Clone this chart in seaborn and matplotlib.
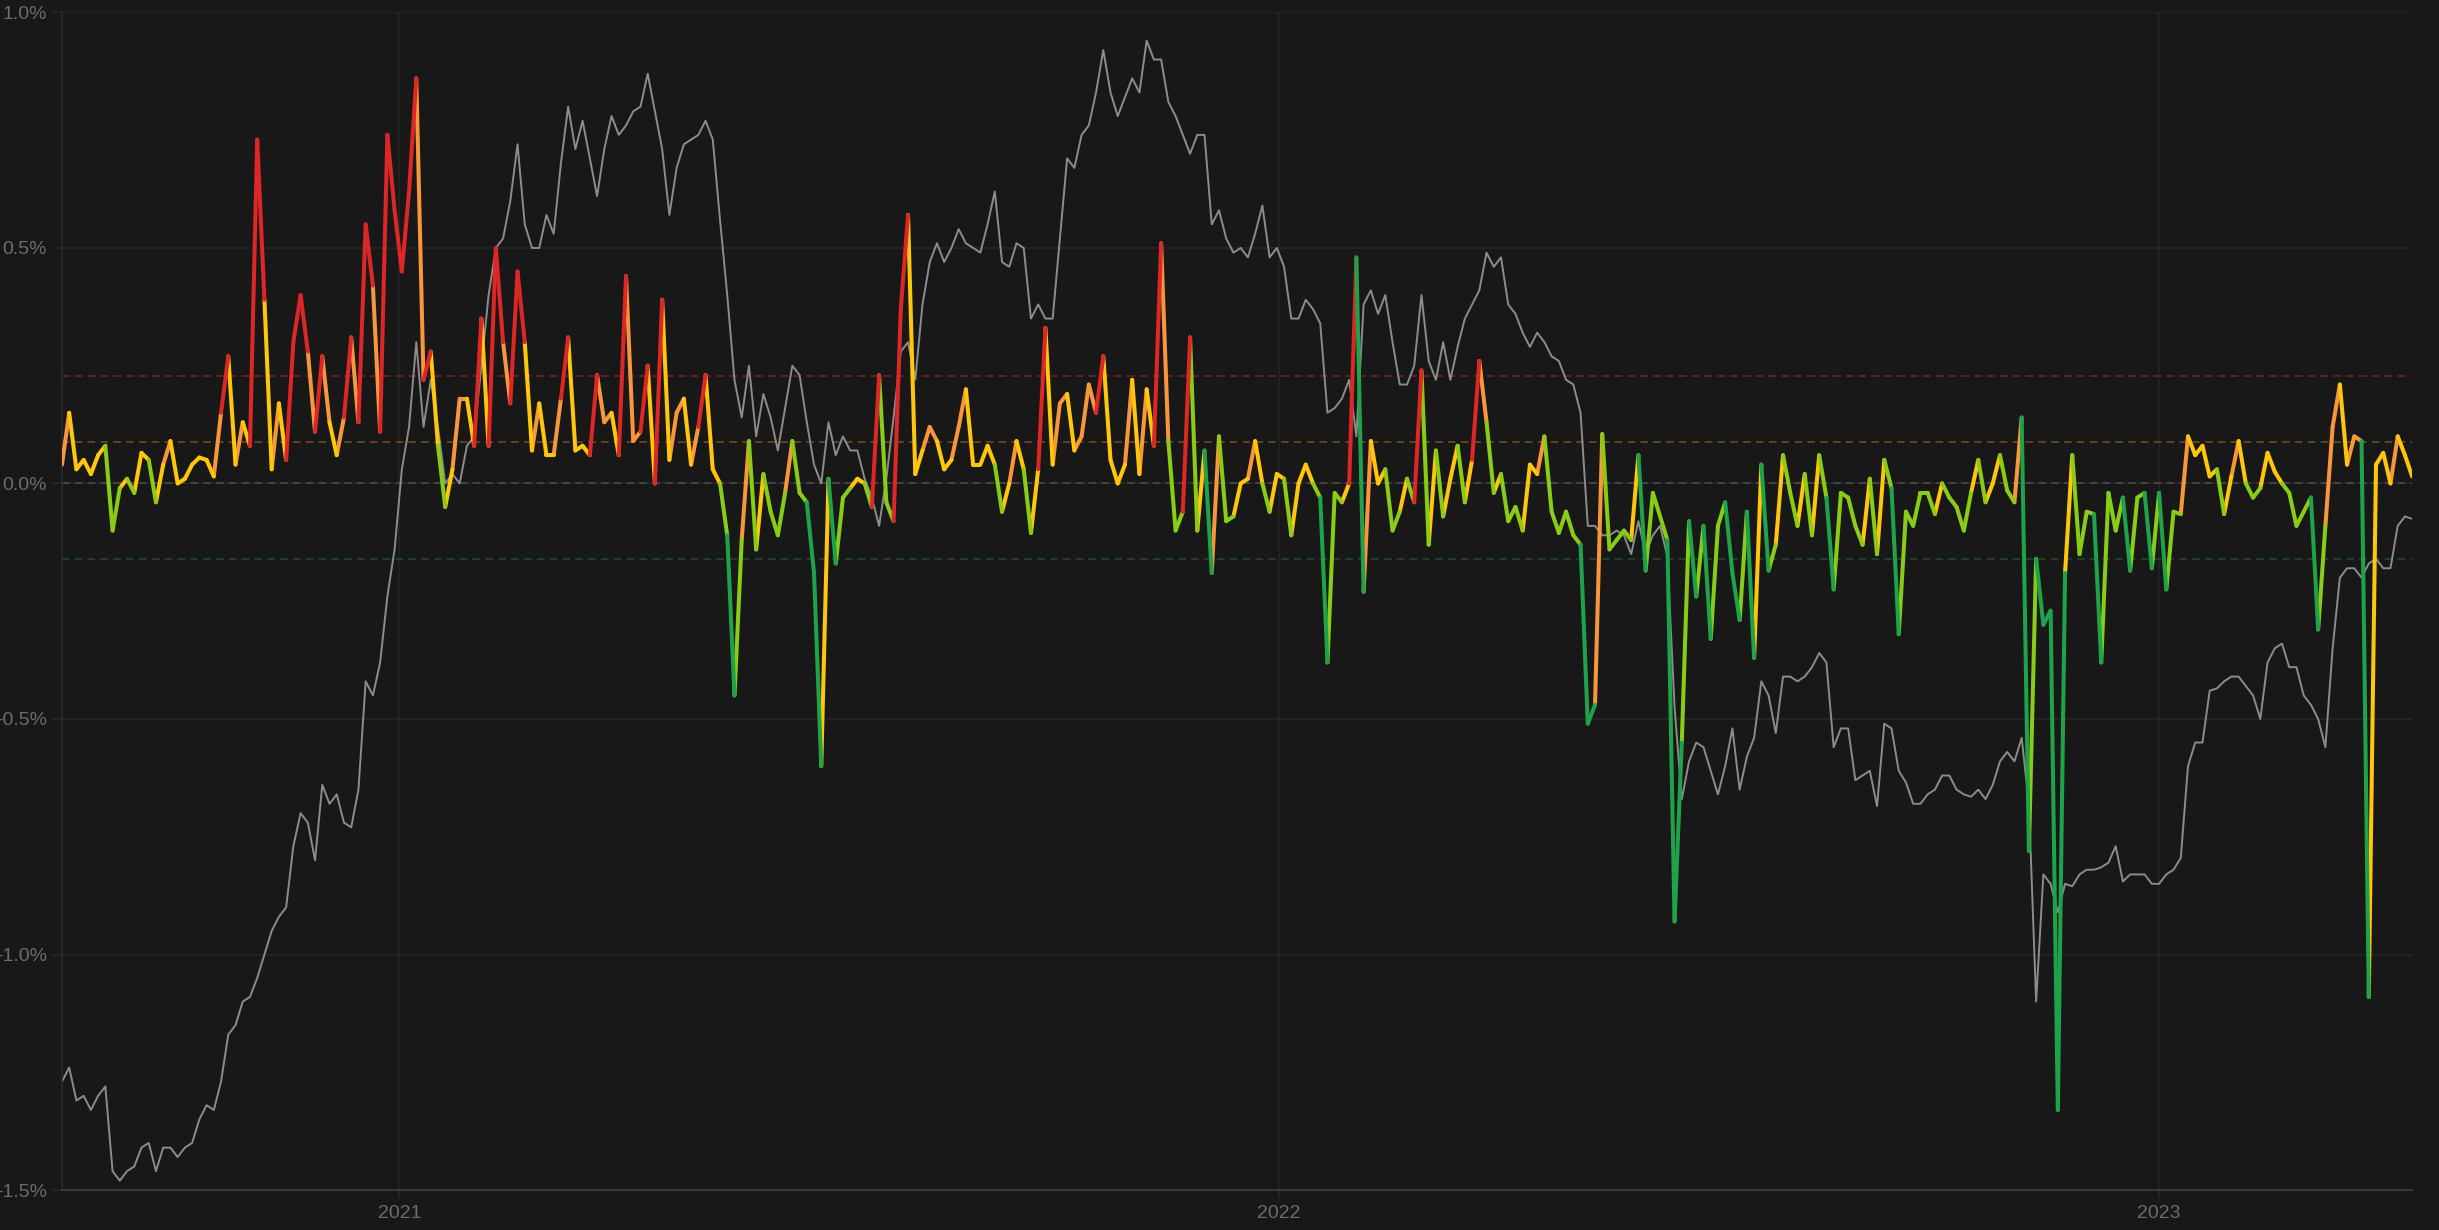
import numpy as np
import pandas as pd
import matplotlib
matplotlib.use("Agg")
import matplotlib.pyplot as plt
from matplotlib.ticker import FuncFormatter, FixedLocator
import matplotlib.dates as mdates
import seaborn as sns

# ---------------- data ----------------
start_date = "2020-08-14"
step_days = 3

# coloured series (%), one value every 3 days
funding = [
    0.04, 0.15, 0.03, 0.05, 0.02, 0.06, 0.08, -0.10, -0.01, 0.01,
    -0.02, 0.065, 0.05, -0.04, 0.04, 0.09, 0.0, 0.01, 0.04, 0.055,
    0.05, 0.015, 0.15, 0.27, 0.04, 0.13, 0.08, 0.73, 0.39, 0.03,
    0.17, 0.05, 0.30, 0.40, 0.28, 0.11, 0.27, 0.13, 0.06, 0.14,
    0.31, 0.13, 0.55, 0.42, 0.11, 0.74, 0.58, 0.45, 0.62, 0.86,
    0.22, 0.28, 0.08, -0.05, 0.03, 0.18, 0.18, 0.08, 0.35, 0.08,
    0.50, 0.30, 0.17, 0.45, 0.30, 0.07,
    0.17, 0.06, 0.06, 0.18, 0.31, 0.07, 0.08, 0.06, 0.23, 0.13,
    0.15, 0.06, 0.44, 0.09, 0.11, 0.25, 0.0, 0.39, 0.05, 0.15,
    0.18, 0.04, 0.12, 0.23, 0.03, 0.0, -0.11, -0.45, -0.12, 0.09,
    -0.14, 0.02, -0.06, -0.11, -0.02, 0.09, -0.02, -0.04, -0.19, -0.60,
    0.01, -0.17, -0.03, -0.01, 0.01, 0.0, -0.05, 0.23, -0.04, -0.08,
    0.37, 0.57, 0.02, 0.07, 0.12, 0.09, 0.03, 0.05, 0.12, 0.20,
    0.04, 0.04, 0.08, 0.04, -0.06,
    0.0, 0.09, 0.03, -0.105, 0.03, 0.33, 0.04, 0.17, 0.19, 0.07,
    0.10, 0.21, 0.15, 0.27, 0.05, 0.0, 0.04, 0.22, 0.02, 0.20,
    0.08, 0.51, 0.09, -0.10, -0.06, 0.31, -0.10, 0.07, -0.19, 0.10,
    -0.08, -0.07, 0.0, 0.01, 0.09, 0.0, -0.06, 0.02, 0.01, -0.11,
    0.0, 0.04, 0.0, -0.03, -0.38, -0.02, -0.04, 0.0, 0.48, -0.23,
    0.09, 0.0, 0.03, -0.10, -0.06, 0.01, -0.04, 0.24, -0.13, 0.07,
    -0.07, 0.01, 0.08, -0.04, 0.05,
    0.26, 0.13, -0.02, 0.02, -0.08, -0.05, -0.10, 0.04, 0.02, 0.10,
    -0.06, -0.105, -0.06, -0.11, -0.13, -0.51, -0.47, 0.105, -0.14, -0.12,
    -0.10, -0.12, 0.06, -0.185, -0.02, -0.07, -0.12, -0.93, -0.55, -0.08,
    -0.24, -0.09, -0.33, -0.09, -0.04, -0.19, -0.29, -0.06, -0.37, 0.04,
    -0.185, -0.13, 0.06, -0.02, -0.09, 0.02, -0.11, 0.06, -0.03, -0.225,
    -0.02, -0.03, -0.09, -0.13, 0.01, -0.15, 0.05, -0.01, -0.32, -0.06,
    -0.09, -0.02, -0.02, -0.065, 0.0,
    -0.03, -0.05, -0.10, -0.02, 0.05, -0.04, 0.0, 0.06, -0.015, -0.04,
    0.14, -0.78, -0.16, -0.30, -0.27, -1.33, -0.19, 0.06, -0.15, -0.06,
    -0.065, -0.38, -0.02, -0.10, -0.03, -0.185, -0.03, -0.02, -0.18, -0.02,
    -0.225, -0.06, -0.065, 0.10, 0.06, 0.08, 0.015, 0.03, -0.065, 0.015,
    0.09, 0.0, -0.03, -0.01, 0.065, 0.025, 0.0, -0.02, -0.09, -0.06,
    -0.03, -0.31, -0.09, 0.12, 0.21, 0.04, 0.10, 0.09, -1.09, 0.04,
    0.065, 0.0, 0.10, 0.06, 0.015,
]

# grey series, drawn on the same percentage scale
reference = [
    -1.27, -1.24, -1.31, -1.30, -1.33, -1.30, -1.28, -1.46, -1.48, -1.46,
    -1.45, -1.41, -1.40, -1.46, -1.41, -1.41, -1.43, -1.41, -1.40, -1.35,
    -1.32, -1.33, -1.27, -1.17, -1.15, -1.10, -1.09, -1.05, -1.00, -0.95,
    -0.92, -0.90, -0.77, -0.70, -0.72, -0.80, -0.64, -0.68, -0.66, -0.72,
    -0.73, -0.65, -0.42, -0.45, -0.38, -0.24, -0.14, 0.03, 0.12, 0.30,
    0.12, 0.22, 0.12, 0.0, 0.02, 0.0, 0.08, 0.10, 0.25, 0.40,
    0.50, 0.52, 0.60, 0.72, 0.55, 0.50,
    0.50, 0.57, 0.53, 0.68, 0.80, 0.71, 0.77, 0.69, 0.61, 0.71,
    0.78, 0.74, 0.76, 0.79, 0.80, 0.87, 0.79, 0.71, 0.57, 0.67,
    0.72, 0.73, 0.74, 0.77, 0.73, 0.56, 0.40, 0.22, 0.14, 0.25,
    0.10, 0.19, 0.14, 0.07, 0.16, 0.25, 0.23, 0.13, 0.04, 0.0,
    0.13, 0.06, 0.10, 0.07, 0.07, 0.01, -0.03, -0.09, 0.01, 0.14,
    0.28, 0.30, 0.22, 0.38, 0.47, 0.51, 0.47, 0.50, 0.54, 0.51,
    0.50, 0.49, 0.55, 0.62, 0.47,
    0.46, 0.51, 0.50, 0.35, 0.38, 0.35, 0.35, 0.52, 0.69, 0.67,
    0.74, 0.76, 0.83, 0.92, 0.83, 0.78, 0.82, 0.86, 0.83, 0.94,
    0.90, 0.90, 0.81, 0.78, 0.74, 0.70, 0.74, 0.74, 0.55, 0.58,
    0.52, 0.49, 0.50, 0.48, 0.53, 0.59, 0.48, 0.50, 0.46, 0.35,
    0.35, 0.39, 0.37, 0.34, 0.15, 0.16, 0.18, 0.22, 0.10, 0.38,
    0.41, 0.36, 0.40, 0.30, 0.21, 0.21, 0.25, 0.40, 0.26, 0.22,
    0.30, 0.22, 0.29, 0.35, 0.38,
    0.41, 0.49, 0.46, 0.48, 0.38, 0.36, 0.32, 0.29, 0.32, 0.30,
    0.27, 0.26, 0.22, 0.21, 0.15, -0.09, -0.09, -0.11, -0.11, -0.10,
    -0.11, -0.15, -0.08, -0.15, -0.11, -0.09, -0.155, -0.475, -0.67, -0.59,
    -0.55, -0.56, -0.61, -0.66, -0.60, -0.52, -0.65, -0.58, -0.54, -0.42,
    -0.45, -0.53, -0.41, -0.41, -0.42, -0.41, -0.39, -0.36, -0.38, -0.56,
    -0.52, -0.52, -0.63, -0.62, -0.61, -0.685, -0.51, -0.52, -0.61, -0.635,
    -0.68, -0.68, -0.66, -0.65, -0.62,
    -0.62, -0.65, -0.66, -0.665, -0.65, -0.67, -0.64, -0.59, -0.57, -0.59,
    -0.54, -0.68, -1.10, -0.83, -0.85, -0.91, -0.85, -0.855, -0.83, -0.82,
    -0.82, -0.815, -0.805, -0.77, -0.845, -0.83, -0.83, -0.83, -0.85, -0.85,
    -0.83, -0.82, -0.795, -0.60, -0.55, -0.55, -0.44, -0.435, -0.42, -0.41,
    -0.41, -0.43, -0.45, -0.50, -0.38, -0.35, -0.34, -0.39, -0.39, -0.45,
    -0.47, -0.50, -0.56, -0.35, -0.20, -0.18, -0.18, -0.20, -0.17, -0.16,
    -0.18, -0.18, -0.09, -0.07, -0.075,
]

# threshold levels (%)
upper_level = 0.229
warm_level = 0.0886
zero_level = 0.0
lower_level = -0.161

y_ticks = [-1.5, -1.0, -0.5, 0.0, 0.5, 1.0]
x_tick_dates = ["2021-01-01", "2022-01-01", "2023-01-01"]
x_tick_labels = ["2021", "2022", "2023"]

# ---------------- style ----------------
BG = "#181818"
palette = {
    "hot": "#dd2626",
    "warm": "#f7963a",
    "neutral": "#ffc60c",
    "cool": "#88cc16",
    "cold": "#1fa34a",
}
sns.set_theme(style="dark", rc={
    "axes.facecolor": BG,
    "figure.facecolor": BG,
})
plt.rcParams["font.family"] = ["Liberation Sans", "DejaVu Sans"]


def band(v):
    if v > upper_level:
        return "hot"
    if v > warm_level:
        return "warm"
    if v >= zero_level:
        return "neutral"
    if v >= lower_level:
        return "cool"
    return "cold"


dates = pd.date_range(start_date, periods=len(funding), freq=f"{step_days}D")
ref_df = pd.DataFrame({"date": dates, "value": reference})

rows = []
for i in range(len(funding) - 1):
    c = band(funding[i + 1])
    rows.append((dates[i], funding[i], i, c))
    rows.append((dates[i + 1], funding[i + 1], i, c))
seg_df = pd.DataFrame(rows, columns=["date", "value", "seg", "band"])

fig = plt.figure(figsize=(24.39, 12.30), dpi=100)
ax = fig.add_axes([0.0254, 0.0325, 0.9636, 0.9574])
ax.set_facecolor(BG)

# threshold dashed lines
dash = (4.5, 3.2)
ax.axhline(upper_level, color="#6b2424", lw=1.2, dashes=dash, zorder=1)
ax.axhline(warm_level, color="#74471f", lw=1.2, dashes=dash, zorder=1)
ax.axhline(zero_level, color="#4a4a4a", lw=1.2, dashes=dash, zorder=1)
ax.axhline(lower_level, color="#1d4a2b", lw=1.2, dashes=dash, zorder=1)

sns.lineplot(data=ref_df, x="date", y="value", color="#8c8c8c",
             linewidth=1.4, ax=ax, zorder=2)

sns.lineplot(data=seg_df, x="date", y="value", hue="band", units="seg",
             estimator=None, palette=palette, linewidth=2.9, sort=False,
             legend=False, ax=ax, zorder=3,
             solid_capstyle="round", solid_joinstyle="round")

ax.set_xlim(dates[0], dates[-1])
ax.set_ylim(-1.5, 1.0)
ax.set_xlabel("")
ax.set_ylabel("")

ax.yaxis.set_major_locator(FixedLocator(y_ticks))
ax.yaxis.set_major_formatter(FuncFormatter(lambda v, p: f"{v:.1f}%"))
xt = mdates.date2num(pd.to_datetime(x_tick_dates))
ax.set_xticks(xt)
ax.set_xticklabels(x_tick_labels)

ax.grid(True, axis="y", color="#272727", lw=1.1, zorder=0)
ax.grid(True, axis="x", color="#242424", lw=1.1, zorder=0)
ax.set_axisbelow(True)

for s in ["top", "right"]:
    ax.spines[s].set_visible(False)
ax.spines["left"].set_color("#2b2b2b")
ax.spines["left"].set_linewidth(1.1)
ax.spines["bottom"].set_color("#3a3a3a")
ax.spines["bottom"].set_linewidth(1.5)

ax.tick_params(axis="y", colors="#6c6c6c", labelsize=14, length=7.5,
               width=1.1, pad=3.5, color="#272727", left=True)
ax.tick_params(axis="x", colors="#6c6c6c", labelsize=14, length=6,
               width=1.1, pad=5, color="#2a2a2a", bottom=True)

fig.savefig("out.png", dpi=100, facecolor=BG)
